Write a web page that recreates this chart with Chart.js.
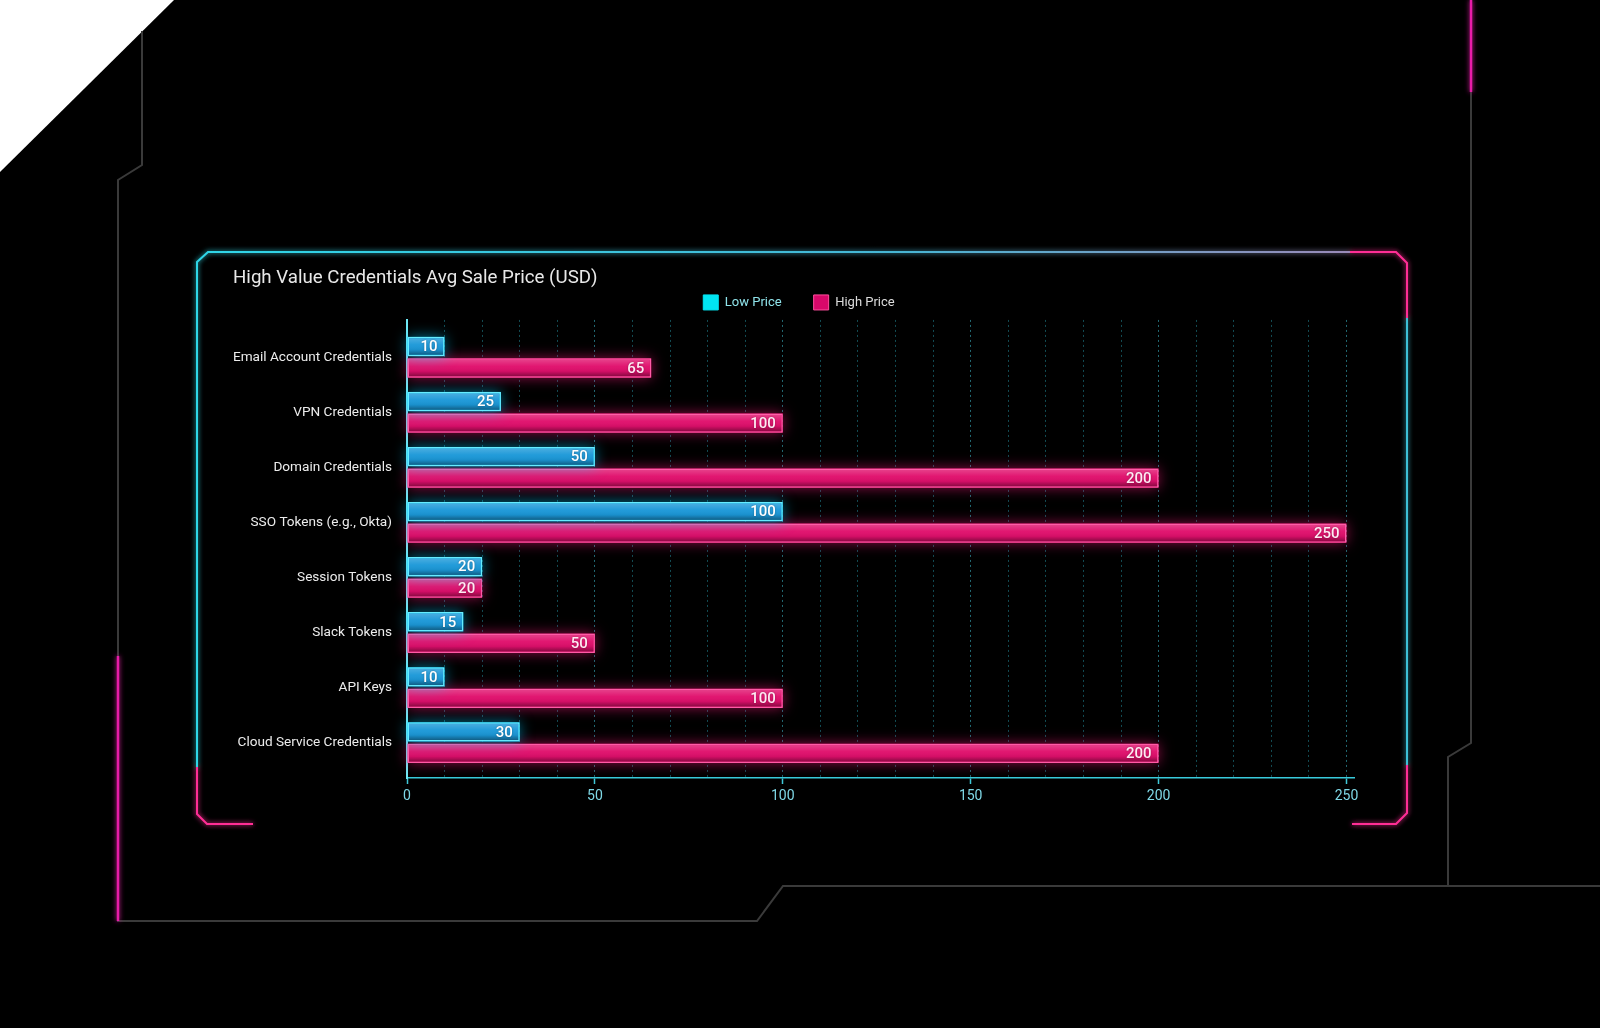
<!DOCTYPE html>
<html><head><meta charset="utf-8">
<script src="https://cdn.jsdelivr.net/npm/chart.js@4.4.1/dist/chart.umd.min.js"></script>
<style>
html,body{margin:0;padding:0;background:#000;width:1600px;height:1028px;overflow:hidden}
#deco{position:absolute;left:0;top:0}
#wrap{position:absolute;left:0;top:0;width:1600px;height:1028px}
</style></head><body>
<svg id="deco" width="1600" height="1028" viewBox="0 0 1600 1028">
  <defs>
    <filter id="glow" x="-20%" y="-20%" width="140%" height="140%">
      <feGaussianBlur stdDeviation="2.5" result="b"/>
      <feMerge><feMergeNode in="b"/><feMergeNode in="SourceGraphic"/></feMerge>
    </filter>
    <linearGradient id="topg" x1="0" x2="1" y1="0" y2="0">
      <stop offset="0" stop-color="#2fd6e8"/><stop offset="0.6" stop-color="#46b6d4"/><stop offset="1" stop-color="#9a8ab8"/>
    </linearGradient>
    <linearGradient id="botg" x1="0" x2="1" y1="0" y2="0">
      <stop offset="0" stop-color="#2aa6b6"/><stop offset="0.7" stop-color="#3a8ea6"/><stop offset="1" stop-color="#7a6e92"/>
    </linearGradient>
  </defs>
  <polygon points="0,0 174,0 0,172" fill="#ffffff"/>
  <g fill="none" stroke="#3a3a3a" stroke-width="2">
    <polyline points="142,31 142,165 118,180 118,921 757,921 783,886 1600,886"/>
    <polyline points="1471,0 1471,743 1448,757 1448,886"/>
  </g>
  <g fill="none" stroke="#e81ca8" stroke-width="2.5" filter="url(#glow)">
    <line x1="1471" y1="0" x2="1471" y2="92"/>
    <line x1="118" y1="656" x2="118" y2="921"/>
  </g>
  <g fill="none" stroke-width="2" filter="url(#glow)">
    <polyline points="197,767 197,262 208,252 1350,252" stroke="url(#topg)"/>
    <line x1="1407" y1="318" x2="1407" y2="765" stroke="#3ec0d6"/>
    <line x1="1352" y1="824" x2="256" y2="824" stroke="url(#botg)"/>
    <polyline points="1350,252 1396,252 1407,263 1407,318" stroke="#ff2d95"/>
    <polyline points="1407,765 1407,813 1396,824 1352,824" stroke="#ff2d95"/>
    <polyline points="253,824 207,824 197,814 197,767" stroke="#ff2d95"/>
  </g>
</svg>
<div id="wrap"><canvas id="c"></canvas></div>
<script>
const chartTitle = 'High Value Credentials Avg Sale Price (USD)';
const categories = ['Email Account Credentials','VPN Credentials','Domain Credentials','SSO Tokens (e.g., Okta)','Session Tokens','Slack Tokens','API Keys','Cloud Service Credentials'];
const lowPrice = [10, 25, 50, 100, 20, 15, 10, 30];
const highPrice = [65, 100, 200, 250, 20, 50, 100, 200];
const seriesNames = ['Low Price', 'High Price'];
const xTickValues = [0, 50, 100, 150, 200, 250];
const xGridStep = 10;

const FONT = 'Roboto, "Noto Sans", sans-serif';

function barRect(el) {
  const p = el.getProps(['x','y','base','height'], true);
  const l = Math.min(p.x, p.base), r = Math.max(p.x, p.base);
  return { l, r, t: p.y - p.height / 2, b: p.y + p.height / 2 };
}

const glowPlugin = {
  id: 'glowBars',
  beforeDatasetDraw(chart, args) {
    const ds = chart.data.datasets[args.index];
    const ctx = chart.ctx;
    args.meta.data.forEach(el => {
      const q = barRect(el);
      ctx.save();
      ctx.shadowColor = ds.glowColor;
      ctx.shadowBlur = 14;
      ctx.fillStyle = ds.glowColor;
      ctx.fillRect(q.l, q.t, q.r - q.l, q.b - q.t);
      ctx.restore();
    });
  },
  afterDatasetDraw(chart, args) {
    const ctx = chart.ctx;
    args.meta.data.forEach(el => {
      const q = barRect(el);
      const l = q.l + 1.5, r = q.r - 1.5, t = q.t + 1.5, b = q.b - 1.5;
      const g = ctx.createLinearGradient(0, t, 0, b);
      g.addColorStop(0, 'rgba(255,255,255,0.2)');
      g.addColorStop(0.4, 'rgba(255,255,255,0.03)');
      g.addColorStop(0.7, 'rgba(0,0,0,0.06)');
      g.addColorStop(1, 'rgba(0,0,0,0.38)');
      ctx.save();
      ctx.fillStyle = g;
      ctx.fillRect(l, t, r - l, b - t);
      ctx.restore();
    });
  }
};

const valueLabels = {
  id: 'valueLabels',
  afterDatasetsDraw(chart) {
    const ctx = chart.ctx;
    chart.data.datasets.forEach((ds, di) => {
      const meta = chart.getDatasetMeta(di);
      meta.data.forEach((el, i) => {
        const p = el.getProps(['x','y'], true);
        ctx.save();
        ctx.font = '500 15px ' + FONT;
        ctx.fillStyle = ds.labelColor;
        ctx.textAlign = 'right';
        ctx.textBaseline = 'middle';
        ctx.shadowColor = 'rgba(0,0,0,0.35)';
        ctx.shadowBlur = 2;
        ctx.fillText(String(ds.data[i].x), p.x - 7, p.y + 1);
        ctx.restore();
      });
    });
  }
};

const gridValues = [];
for (let v = 0; v <= 250; v += xGridStep) gridValues.push(v);

new Chart(document.getElementById('c'), {
  type: 'bar',
  data: {
    datasets: [
      {
        label: seriesNames[0],
        data: categories.map((c, i) => ({ x: lowPrice[i], y: i })),
        backgroundColor: '#1b98d8',
        borderColor: '#66ecff',
        borderWidth: 1.5,
        borderSkipped: false,
        glowColor: 'rgba(0,200,255,0.75)',
        labelColor: '#ffffff',
        legendColor: '#00e5f2',
        legendText: '#8fe3ea',
        categoryPercentage: 0.78,
        barPercentage: 0.9
      },
      {
        label: seriesNames[1],
        data: categories.map((c, i) => ({ x: highPrice[i], y: i })),
        backgroundColor: '#e00f6c',
        borderColor: '#ff5aa6',
        borderWidth: 1.5,
        borderSkipped: false,
        glowColor: 'rgba(255,25,125,0.75)',
        labelColor: '#ffeaf3',
        legendColor: '#d8086a',
        legendText: '#dcdcdc',
        categoryPercentage: 0.78,
        barPercentage: 0.9
      }
    ]
  },
  options: {
    indexAxis: 'y',
    responsive: true,
    maintainAspectRatio: false,
    animation: false,
    layout: { padding: { left: 233, right: 235, top: 250, bottom: 200 } },
    plugins: {
      tooltip: { enabled: false },
      title: {
        display: true,
        text: chartTitle,
        align: 'start',
        color: '#e8e8e8',
        font: { family: FONT, size: 18.7, weight: '400', lineHeight: 1.2 },
        padding: { top: 16.8, bottom: -26.3 }
      },
      legend: {
        display: true,
        position: 'top',
        align: 'center',
        labels: {
          boxWidth: 15,
          boxHeight: 15,
          padding: 32,
          font: { family: FONT, size: 13 },
          generateLabels(chart) {
            return chart.data.datasets.map((ds, i) => ({
              text: ds.label,
              fillStyle: ds.legendColor,
              strokeStyle: i === 1 ? '#ff4f9e' : ds.legendColor,
              lineWidth: 1,
              fontColor: ds.legendText,
              datasetIndex: i,
              hidden: false
            }));
          }
        }
      }
    },
    scales: {
      x: {
        type: 'linear',
        position: 'bottom',
        offset: false,
        min: 0,
        max: 252,
        afterBuildTicks(s) { s.ticks = gridValues.map(v => ({ value: v })); },
        afterFit(s) { s.height = 50; },
        ticks: {
          autoSkip: false,
          maxRotation: 0,
          padding: 4,
          color: '#7fd8e6',
          font: { family: FONT, size: 14 },
          callback: v => (xTickValues.includes(v) ? String(v) : '')
        },
        grid: {
          offset: false,
          color: c => (xTickValues.includes(c.tick && c.tick.value) ? 'rgba(70,210,230,0.5)' : 'rgba(45,180,200,0.42)'),
          lineWidth: 1,
          tickLength: 6,
          tickColor: c => (xTickValues.includes(c.tick && c.tick.value) ? '#3fc8d8' : 'rgba(0,0,0,0)'),
          tickBorderDash: [],
          tickWidth: 1.5
        },
        border: { display: true, color: '#38cbdc', width: 1.5, dash: [2, 3] }
      },
      y: {
        type: 'linear',
        position: 'left',
        offset: false,
        reverse: true,
        min: -0.678,
        max: 7.643,
        afterBuildTicks(s) { s.ticks = categories.map((c, i) => ({ value: i })); },
        afterFit(s) { s.width = 174; },
        ticks: {
          autoSkip: false,
          padding: 15,
          color: '#ececec',
          font: { family: FONT, size: 13.6 },
          callback: v => categories[v]
        },
        grid: { offset: false, drawOnChartArea: false, drawTicks: false },
        border: { display: true, color: '#6fe9f5', width: 2 }
      },
      yPad: {
        type: 'linear',
        position: 'right',
        display: true,
        ticks: { display: false },
        grid: { display: false },
        border: { display: false },
        afterFit(s) { s.width = 11; }
      }
    }
  },
  plugins: [glowPlugin, valueLabels]
});
</script>
</body></html>
